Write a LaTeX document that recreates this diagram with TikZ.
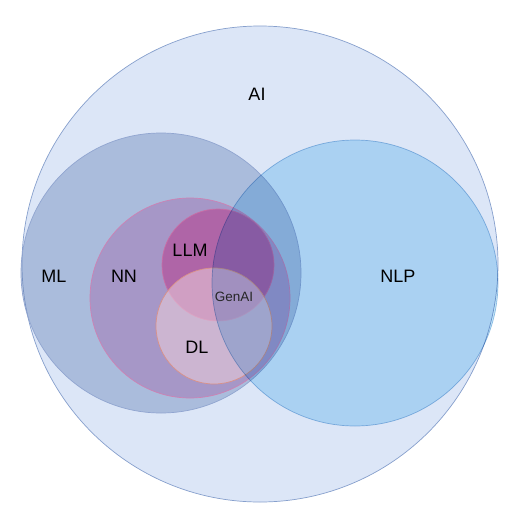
\documentclass[tikz,border=0pt]{standalone}
\usepackage{fontspec}
\setmainfont{Liberation Sans}
\definecolor{aifill}{RGB}{220,230,247}
\definecolor{aidraw}{RGB}{135,160,205}
\definecolor{mlfill}{RGB}{95,125,180}
\definecolor{mldraw}{RGB}{145,165,208}
\definecolor{nlpfill}{RGB}{198,232,250}
\definecolor{nlpdraw}{RGB}{160,198,230}
\definecolor{nnfill}{RGB}{161,83,160}
\definecolor{nndraw}{RGB}{205,130,180}
\definecolor{llmfill}{RGB}{185,53,137}
\definecolor{llmdraw}{RGB}{200,110,165}
\definecolor{dlfill}{RGB}{236,207,219}
\definecolor{dldraw}{RGB}{218,145,135}
\tikzset{
  set/.style={line width=0.7pt},
  lbl/.style={font=\fontsize{18}{20}\selectfont, text=black, inner sep=0pt},
  small/.style={font=\fontsize{13.5}{15}\selectfont, text=black!85, inner sep=0pt}
}
\begin{document}
\begin{tikzpicture}[x=1pt,y=-1pt]
\useasboundingbox (0,0) rectangle (514,523);
\fill[white] (0,0) rectangle (514,523);
% sets
\draw[set, fill=aifill, draw=aidraw] (260,264) circle (238);
\draw[set, fill=mlfill, fill opacity=0.4, draw=mldraw] (161,273) circle (140);
\draw[set, fill=nnfill, fill opacity=0.35, draw=nndraw] (190,298) circle (100);
\draw[set, fill=llmfill, fill opacity=0.5, draw=llmdraw] (218,265) circle (56);
\draw[set, fill=dlfill, fill opacity=0.55, draw=dldraw] (214,326) circle (58);
\begin{scope}[blend mode=multiply]
\draw[set, fill=nlpfill, draw=nlpdraw] (355,283) circle (143);
\end{scope}
% labels
\node[lbl] (ai) at (257,94) {AI};
\node[lbl] (ml) at (54,276) {ML};
\node[lbl] (nn) at (124,276) {NN};
\node[lbl] (llm) at (190,250) {LLM};
\node[lbl] (nlp) at (398,276) {NLP};
\node[small] (genai) at (234,297) {GenAI};
\node[lbl] (dl) at (197,347) {DL};
\end{tikzpicture}
\end{document}
